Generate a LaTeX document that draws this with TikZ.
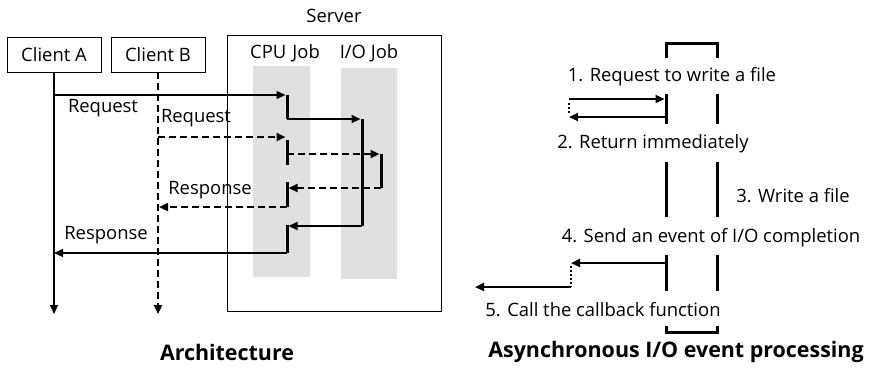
\documentclass[tikz,border=0pt]{standalone}
\usepackage{fontspec}
\setmainfont{Open Sans}
\usetikzlibrary{arrows.meta}

\begin{document}
\begin{tikzpicture}[x=1bp, y=-1bp,
    >={Triangle[length=9bp,width=8bp]},
    every node/.style={font=\fontsize{18.5}{20}\selectfont, inner sep=0pt},
    thinline/.style={line width=1.3bp},
    midline/.style={line width=2.2bp},
    fatline/.style={line width=3bp},
    dashline/.style={line width=2.8bp, dash pattern=on 7bp off 4bp},
    dotline/.style={line width=2.2bp, dash pattern=on 2bp off 2bp},
    client/.style={draw, line width=0.9bp, minimum width=94bp, minimum height=35bp},
    title/.style={font=\fontsize{21.5}{24}\selectfont\bfseries}]
    \useasboundingbox (0,0) rectangle (871,368);

    % Job columns inside the server
    \fill[black!12] (253,66) rectangle (310,277);
    \fill[black!12] (341,68) rectangle (397,279);

    % Server box and labels
    \draw[line width=1bp] (227,35) rectangle (441,311);
    \node (server) at (334,16) {Server};
    \node (cpujob) at (285,53) {CPU\,\,Job};
    \node (iojob) at (369,53) {I/O Job};

    % Clients
    \node[client] (clientA) at (54,54.5) {Client A};
    \node[client] (clientB) at (158,54.5) {Client B};

    % Lifelines of the clients
    \coordinate (endA) at (54,314);
    \coordinate (endB) at (158,314);
    \draw[->, thinline] (clientA.south) -- (endA);
    \draw[->, dashline] (clientB.south) -- (endB);

    % Client A: solid request and response
    \coordinate (a1) at (287,95);
    \coordinate (a2) at (287,119);
    \coordinate (a3) at (362,119);
    \coordinate (a4) at (362,226);
    \coordinate (a5) at (287,226);
    \coordinate (a6) at (287,253);
    \draw[->, thinline, shorten >=1.5bp] (clientA.south |- a1) -- (a1);
    \draw[fatline] (a1) -- (a2);
    \draw[->, midline, shorten >=1.5bp] (a2) -- (a3);
    \draw[fatline] (a3) -- (a4);
    \draw[->, midline, shorten >=1.5bp] (a4) -- (a5);
    \draw[fatline] ([yshift=1bp]a5) -- (a6);
    \draw[->, thinline] (a6) -- (clientA.south |- a6);

    % Client B: dashed request and response
    \coordinate (b1) at (287,137);
    \coordinate (b2) at (287,140);
    \coordinate (b3) at (287,165);
    \coordinate (b4) at (287,154);
    \coordinate (b5) at (381,154);
    \coordinate (b6) at (381,188);
    \coordinate (b7) at (287,188);
    \coordinate (b8) at (287,182);
    \coordinate (b9) at (287,207);
    \draw[->, dashline, shorten >=1.5bp] (clientB.south |- b1) -- (b1);
    \draw[fatline] (b2) -- (b3);
    \draw[->, dashline, shorten >=1.5bp] (b4) -- (b5);
    \draw[fatline] (b5) -- (b6);
    \draw[->, dashline, shorten >=1.5bp] (b6) -- (b7);
    \draw[fatline] (b8) -- (b9);
    \draw[->, dashline, shorten >=1bp] (b9) -- (clientB.south |- b9);

    % Labels on the left side
    \node (reqA) at (103,108) {Request};
    \node (reqB) at (196,118) {Request};
    \node (resB) at (210,190) {Response};
    \node (resA) at (106,235) {Response};
    \node[title] (arch) at (227,352) {Architecture};

    % Right side: the two time lines
    \coordinate (l0) at (666,43);
    \coordinate (r0) at (717,43);
    \draw[fatline] (666,58) -- (l0) -- (r0) -- (717,58);
    \foreach \ya/\yb in {94/124, 162/217, 255/291} {
        \draw[fatline] (666,\ya) -- (666,\yb);
        \draw[fatline] (717,\ya) -- (717,\yb);
    }
    \draw[fatline] (666,326) -- (666,332) -- (717,332) -- (717,326);

    % Request and immediate return
    \coordinate (c1) at (569,99);
    \coordinate (c2) at (666,99);
    \coordinate (c3) at (666,117);
    \coordinate (c4) at (569,117);
    \draw[->, midline, shorten >=1.5bp] (c1) -- (c2);
    \draw[->, midline] (c3) -- (c4);
    \draw[dotline] ([yshift=-4bp]c1) -- ([yshift=2bp]c4);

    % Completion event and callback
    \coordinate (e1) at (666,263);
    \coordinate (e2) at (571,263);
    \coordinate (e3) at (571,287);
    \coordinate (e4) at (475,287);
    \draw[->, midline] (e1) -- (e2);
    \draw[dotline] ([yshift=-3bp]e2) -- (e3);
    \draw[->, midline] (e3) -- (e4);

    % Labels on the right side
    \node (step1) at (672,77) {1. Request to write a file};
    \node (step2) at (653,144) {2. Return immediately};
    \node (step3) at (793,196) {3. Write a file};
    \node (step4) at (711,238) {4. Send an event of I/O completion};
    \node (step5) at (603,310) {5. Call the callback function};
    \node[title] (async) at (676,352) {Asynchronous I/O event processing};
\end{tikzpicture}
\end{document}
